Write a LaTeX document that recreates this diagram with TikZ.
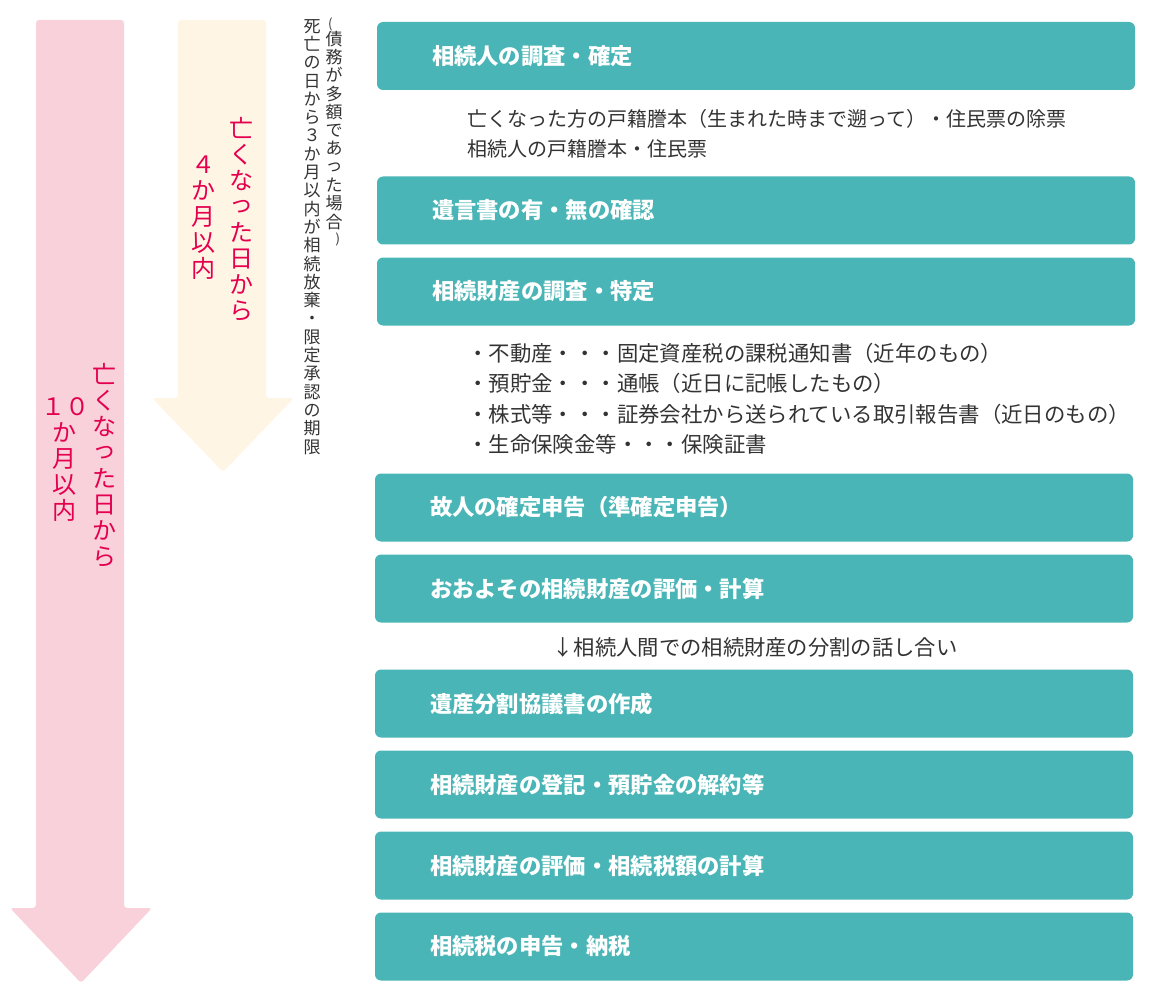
\documentclass[tikz,border=0pt]{standalone}
\usepackage{fontspec}
\usepackage{graphicx}
\newfontfamily\jp{Noto Sans CJK JP}
\definecolor{tealc}{HTML}{4AB5B6}
\definecolor{pinkc}{HTML}{F8D1DA}
\definecolor{creamc}{HTML}{FFF5E4}
\definecolor{redc}{HTML}{E4004F}
\definecolor{txtc}{HTML}{333333}
\newcommand\vsk[1]{\raisebox{0.1em}{#1}}
\newcommand\vlp{\makebox[1em][l]{\hspace{0.15em}{\fontsize{13}{13}\selectfont(}}}
\newcommand\vrp{\makebox[1em][r]{{\fontsize{13}{13}\selectfont)}\hspace{0.15em}}}
\tikzset{
  stepbox/.style={fill=tealc, rounded corners=6pt, minimum height=68pt, text width=648pt,
    inner xsep=55pt, inner ysep=0pt, align=left, text=white, font=\jp\bfseries\fontsize{22.3}{26}\selectfont},
  note/.style={anchor=west, inner sep=0pt, text=txtc, font=\jp\fontsize{20}{30}\selectfont, align=left},
  bullet/.style={anchor=west, inner sep=0pt, text=txtc, font=\jp\fontsize{21.4}{30.5}\selectfont, align=left},
  redcol/.style={anchor=north, inner sep=0pt, text=redc, align=center, font=\jp\fontsize{24}{26}\selectfont},
  blkcol/.style={anchor=north, inner sep=0pt, text=txtc, align=center, font=\jp\fontsize{17}{18.3}\selectfont},
}
\begin{document}
\begin{tikzpicture}[x=1pt,y=-1pt]
\useasboundingbox (0,0) rectangle (1170,995);
% long pink arrow
\fill[pinkc, rounded corners=3pt] (10,908) -- (36,908) -- (36,20) -- (124,20) -- (124,908) -- (152,908) -- (81,983) -- cycle;
% cream arrow
\fill[creamc, rounded corners=3pt] (152,398) -- (178,398) -- (178,20) -- (266,20) -- (266,398) -- (294,398) -- (223,472) -- cycle;
% red vertical texts
\node[redcol] (c4a) at (241,117) {亡\\く\\な\\\vsk{っ}\\た\\日\\か\\ら};
\node[redcol] (c4b) at (203,156) {４\\か\\月\\以\\内};
\node[redcol] (p10a) at (104,363) {亡\\く\\な\\\vsk{っ}\\た\\日\\か\\ら};
\node[redcol] (p10b) at (65,397) {１０\\か\\月\\以\\内};
% black vertical texts
\node[blkcol] (v1) at (334,18) {\vlp\\[-2pt]債\\務\\が\\多\\額\\で\\あ\\\vsk{っ}\\た\\場\\合\\[-3pt]\vrp};
\node[blkcol] (v2) at (312,19) {死\\亡\\の\\日\\か\\ら\\３\\か\\月\\以\\内\\が\\相\\続\\放\\棄\\・\\限\\定\\承\\認\\の\\期\\限};
% steps
\node[stepbox] (s1) at (756,56) {相続人の調査・確定};
\node[note] (n1) at (467,119) {亡くなった方の戸籍謄本（生まれた時まで遡って）・住民票の除票};
\node[note] (n2) at (467,149) {相続人の戸籍謄本・住民票};
\node[stepbox] (s2) at (756,210.5) {遺言書の有・無の確認};
\node[stepbox] (s3) at (756,291.5) {相続財産の調査・特定};
\node[bullet] (b1) at (467,353) {・不動産・・・固定資産税の課税通知書（近年のもの）};
\node[bullet] (b2) at (467,383.5) {・預貯金・・・通帳（近日に記帳したもの）};
\node[bullet] (b3) at (467,414) {・株式等・・・証券会社から送られている取引報告書（近日のもの）};
\node[bullet] (b4) at (467,444.5) {・生命保険金等・・・保険証書};
\node[stepbox] (s4) at (754,507.5) {故人の確定申告（準確定申告）};
\node[stepbox] (s5) at (754,588.5) {おおよその相続財産の評価・計算};
\node[bullet, anchor=center, font=\jp\fontsize{21.3}{26}\selectfont] (m1) at (755,647) {↓相続人間での相続財産の分割の話し合い};
\node[stepbox] (s6) at (754,703.5) {遺産分割協議書の作成};
\node[stepbox] (s7) at (754,784.5) {相続財産の登記・預貯金の解約等};
\node[stepbox] (s8) at (754,865.5) {相続財産の評価・相続税額の計算};
\node[stepbox] (s9) at (754,946.5) {相続税の申告・納税};
\end{tikzpicture}
\end{document}
